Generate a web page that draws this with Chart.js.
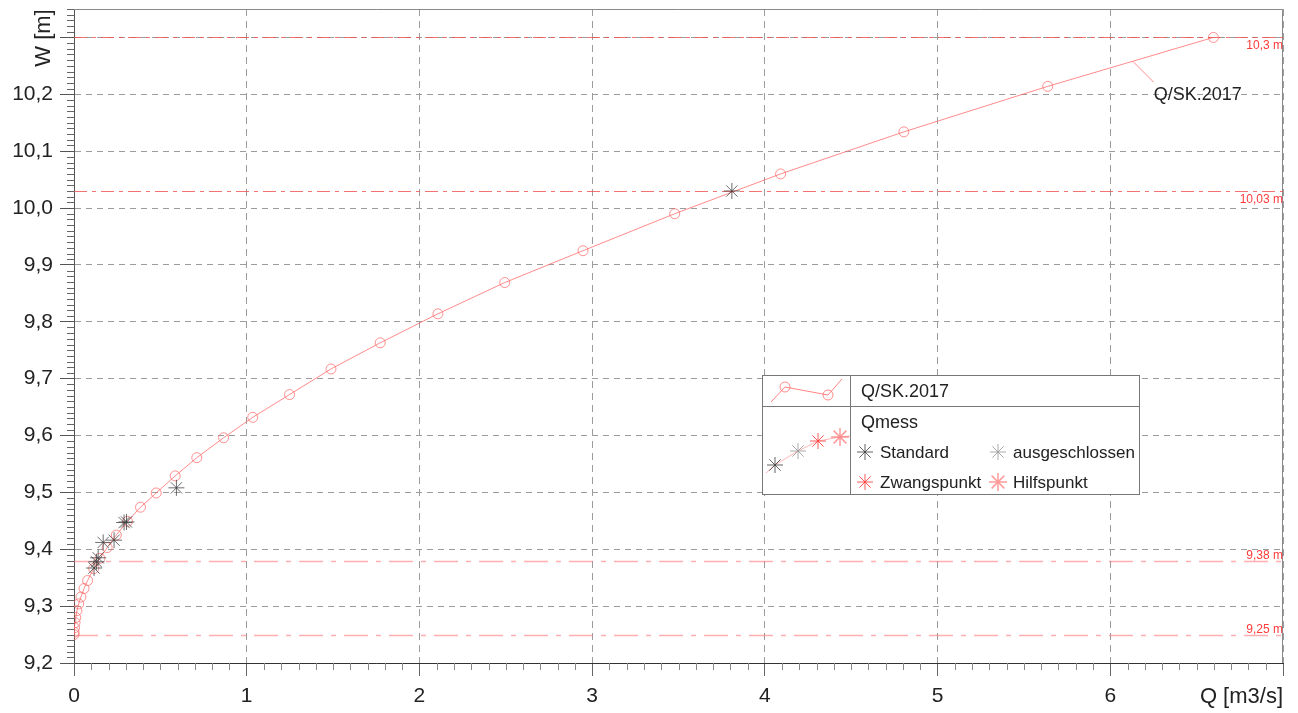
<html>

<head>
    <title>Q/SK.2017</title>
    <script src="https://cdn.jsdelivr.net/npm/chart.js"></script>
    <style>
        body { margin: 0; background: #fff; }
        #box { width: 1298px; height: 713px; position: relative; }
    </style>
</head>

<body>
    <div id="box">
        <canvas id="myChart"></canvas>
    </div>

    <script>
        // Abflusskurve Q/SK.2017 (Q in m3/s, W in m)
        const curveQ = [0.000, 0.001, 0.003, 0.006, 0.010, 0.017, 0.027, 0.040, 0.058, 0.079, 0.114,
            0.150, 0.192, 0.245, 0.310, 0.385, 0.476, 0.586, 0.711, 0.866, 1.035, 1.248, 1.488,
            1.773, 2.107, 2.494, 2.947, 3.478, 4.091, 4.805, 5.638, 6.597];
        const curveW = [9.250, 9.254, 9.262, 9.271, 9.280, 9.292, 9.304, 9.316, 9.331, 9.345, 9.366,
            9.384, 9.403, 9.425, 9.449, 9.474, 9.499, 9.529, 9.561, 9.596, 9.632, 9.672, 9.717,
            9.763, 9.814, 9.869, 9.925, 9.990, 10.060, 10.134, 10.214, 10.300];

        // Messungen (Standard)
        const messQ = [0.116, 0.130, 0.140, 0.169, 0.232, 0.290, 0.304, 0.593, 3.809];
        const messW = [9.367, 9.378, 9.385, 9.412, 9.416, 9.447, 9.448, 9.508, 10.030];

        // Grenzwasserstaende
        const refLevels = [10.3, 10.03, 9.38, 9.25];
        const refLabels = ['10,3 m', '10,03 m', '9,38 m', '9,25 m'];

        const xTickLabels = ['0', '1', '2', '3', '4', '5', '6'];
        const yTickLabels = ['9,2', '9,3', '9,4', '9,5', '9,6', '9,7', '9,8', '9,9', '10,0', '10,1', '10,2'];

        const curveLabelAt = 6.13; // Q where the curve name is pinned

        const FONT = "'Liberation Sans', Arial, sans-serif";
        Chart.defaults.font.family = FONT;
        Chart.defaults.font.size = 21;
        Chart.defaults.color = '#222';

        function drawStar(ctx, x, y, r, color, w) {
            ctx.save();
            ctx.strokeStyle = color;
            ctx.lineWidth = w;
            ctx.beginPath();
            for (let k = 0; k < 4; k++) {
                const a = k * Math.PI / 4;
                ctx.moveTo(x - r * Math.cos(a), y - r * Math.sin(a));
                ctx.lineTo(x + r * Math.cos(a), y + r * Math.sin(a));
            }
            ctx.stroke();
            ctx.restore();
        }

        const decor = {
            id: 'decor',
            beforeDatasetsDraw(chart) {
                const { ctx, chartArea: a, scales: { x, y } } = chart;
                ctx.save();
                // frame top / right
                ctx.strokeStyle = '#8a8a8a';
                ctx.lineWidth = 1;
                ctx.beginPath();
                ctx.moveTo(a.left, a.top + 0.5);
                ctx.lineTo(a.right - 0.5, a.top + 0.5);
                ctx.lineTo(a.right - 0.5, a.bottom);
                ctx.stroke();

                // reference levels
                refLevels.forEach((lv, i) => {
                    const py = Math.round(y.getPixelForValue(lv)) + 0.5;
                    const upper = lv > 9.8;
                    ctx.beginPath();
                    if (upper) {
                        ctx.strokeStyle = 'rgba(240,80,80,0.8)';
                        ctx.lineWidth = 1;
                        ctx.setLineDash([13, 5, 4, 5]);
                    } else {
                        ctx.strokeStyle = 'rgba(255,110,110,0.55)';
                        ctx.lineWidth = 1.5;
                        ctx.setLineDash([24, 8, 5, 8]);
                    }
                    ctx.moveTo(a.left, py);
                    ctx.lineTo(a.right, py);
                    ctx.stroke();
                    ctx.setLineDash([]);
                    ctx.fillStyle = '#ff3a3a';
                    ctx.font = '12px ' + FONT;
                    ctx.textAlign = 'right';
                    if (upper) {
                        ctx.textBaseline = 'top';
                        ctx.fillText(refLabels[i], a.right, py + 2);
                    } else {
                        ctx.textBaseline = 'alphabetic';
                        ctx.fillText(refLabels[i], a.right, py - 3);
                    }
                });
                ctx.restore();
            },
            afterDraw(chart) {
                const { ctx, chartArea: a, scales: { x, y } } = chart;
                ctx.save();

                // minor ticks
                ctx.strokeStyle = '#666';
                ctx.lineWidth = 1;
                ctx.beginPath();
                for (let k = 0; k <= 115; k++) {
                    if (k % 10 === 0) continue;
                    const py = Math.round(y.getPixelForValue(9.2 + k * 0.01)) + 0.5;
                    ctx.moveTo(a.left - 7, py);
                    ctx.lineTo(a.left, py);
                }
                ctx.stroke();
                ctx.strokeStyle = '#888';
                ctx.beginPath();
                for (let k = 0; k <= 70; k++) {
                    if (k % 10 === 0) continue;
                    const px = Math.round(x.getPixelForValue(k * 0.1)) + 0.5;
                    ctx.moveTo(px, a.bottom);
                    ctx.lineTo(px, a.bottom + 7);
                }
                ctx.stroke();

                // axis titles
                ctx.fillStyle = '#222';
                ctx.font = '22px ' + FONT;
                ctx.textAlign = 'right';
                ctx.textBaseline = 'alphabetic';
                ctx.fillText('Q [m3/s]', a.right, 703);
                ctx.save();
                ctx.translate(50, 38);
                ctx.rotate(-Math.PI / 2);
                ctx.textAlign = 'center';
                ctx.fillText('W [m]', 0, 0);
                ctx.restore();

                // curve name with leader
                let i = curveQ.findIndex(q => q > curveLabelAt);
                const t = (curveLabelAt - curveQ[i - 1]) / (curveQ[i] - curveQ[i - 1]);
                const wAt = curveW[i - 1] + t * (curveW[i] - curveW[i - 1]);
                const lx = x.getPixelForValue(curveLabelAt), ly = y.getPixelForValue(wAt);
                ctx.strokeStyle = 'rgba(255,110,110,0.8)';
                ctx.beginPath();
                ctx.moveTo(lx, ly);
                ctx.lineTo(lx + 21, ly + 21);
                ctx.stroke();
                ctx.font = '18px ' + FONT;
                ctx.textAlign = 'left';
                ctx.fillText('Q/SK.2017', lx + 21, ly + 39);

                // legend table
                const L = 762.5, R = 1139.5, T = 375.5, B = 494.5, M = 406.5, V = 850.5;
                ctx.fillStyle = '#fff';
                ctx.fillRect(L, T, R - L, B - T);
                ctx.strokeStyle = '#777';
                ctx.lineWidth = 1;
                ctx.strokeRect(L, T, R - L, B - T);
                ctx.beginPath();
                ctx.moveTo(L, M); ctx.lineTo(R, M);
                ctx.moveTo(V, T); ctx.lineTo(V, B);
                ctx.stroke();

                ctx.strokeStyle = 'rgba(255,100,100,0.8)';
                ctx.beginPath();
                ctx.moveTo(771, 402); ctx.lineTo(785, 387); ctx.lineTo(828, 395); ctx.lineTo(842, 379);
                ctx.stroke();
                ctx.strokeStyle = 'rgba(255,100,100,0.75)';
                [[785, 387], [828, 395]].forEach(p => {
                    ctx.beginPath();
                    ctx.arc(p[0], p[1], 5, 0, Math.PI * 2);
                    ctx.stroke();
                });

                ctx.strokeStyle = 'rgba(255,120,120,0.55)';
                ctx.beginPath();
                ctx.moveTo(766, 473); ctx.lineTo(775, 465); ctx.lineTo(798, 451); ctx.lineTo(818, 441); ctx.lineTo(840, 437); ctx.lineTo(850, 436);
                ctx.stroke();
                drawStar(ctx, 775, 465, 8, 'rgba(60,60,60,0.8)', 1);
                drawStar(ctx, 798, 451, 8, 'rgba(150,150,150,0.8)', 1);
                drawStar(ctx, 818, 441, 8, 'rgba(255,50,50,0.8)', 1);
                drawStar(ctx, 840, 437, 9, 'rgba(255,90,90,0.6)', 1.5);

                drawStar(ctx, 865, 452, 8, 'rgba(60,60,60,0.8)', 1);
                drawStar(ctx, 998, 452, 8, 'rgba(150,150,150,0.8)', 1);
                drawStar(ctx, 865, 482, 8, 'rgba(255,50,50,0.8)', 1);
                drawStar(ctx, 998, 482, 9, 'rgba(255,90,90,0.6)', 1.5);

                ctx.fillStyle = '#222';
                ctx.font = '18px ' + FONT;
                ctx.textAlign = 'left';
                ctx.textBaseline = 'alphabetic';
                ctx.fillText('Q/SK.2017', 861, 397);
                ctx.fillText('Qmess', 861, 428);
                ctx.font = '17px ' + FONT;
                ctx.fillText('Standard', 880, 458);
                ctx.fillText('ausgeschlossen', 1013, 458);
                ctx.fillText('Zwangspunkt', 880, 488);
                ctx.fillText('Hilfspunkt', 1013, 488);

                ctx.restore();
            }
        };

        const data = {
            datasets: [
                {
                    label: 'Qmess',
                    data: messQ.map((q, i) => ({ x: q, y: messW[i] })),
                    showLine: false,
                    pointStyle: 'star',
                    pointRadius: 8,
                    pointBorderColor: 'rgba(60,60,60,0.75)',
                    pointBorderWidth: 1,
                    pointBackgroundColor: 'rgba(60,60,60,0.75)',
                    order: 1
                },
                {
                    label: 'Q/SK.2017',
                    data: curveQ.map((q, i) => ({ x: q, y: curveW[i] })),
                    showLine: true,
                    borderColor: 'rgba(255,110,110,0.8)',
                    borderWidth: 1,
                    tension: 0,
                    pointStyle: 'circle',
                    pointRadius: 5,
                    pointBackgroundColor: 'rgba(255,255,255,0)',
                    pointBorderColor: 'rgba(255,100,100,0.7)',
                    pointBorderWidth: 1,
                    order: 2
                }
            ]
        };

        const config = {
            type: 'scatter',
            data: data,
            options: {
                responsive: true,
                maintainAspectRatio: false,
                animation: false,
                layout: { padding: { top: 8, right: 15, left: 0, bottom: 0 } },
                scales: {
                    x: {
                        min: 0,
                        max: 7,
                        afterFit: (s) => { s.height = 50; s.paddingLeft = 0; s.paddingRight = 0; },
                        ticks: {
                            stepSize: 1,
                            includeBounds: false,
                            padding: 8,
                            maxRotation: 0,
                            autoSkip: false,
                            callback: (v, i) => xTickLabels[i] ?? ''
                        },
                        grid: { color: '#9c9c9c', tickColor: '#666', tickLength: 13 },
                        border: { color: '#333', width: 1, dash: [7, 5] }
                    },
                    y: {
                        min: 9.2,
                        max: 10.35,
                        afterFit: (s) => { s.width = 74; s.paddingTop = 0; s.paddingBottom = 0; },
                        ticks: {
                            stepSize: 0.1,
                            includeBounds: false,
                            padding: 7,
                            autoSkip: false,
                            callback: (v, i) => yTickLabels[i] ?? ''
                        },
                        grid: { color: '#9c9c9c', tickColor: '#555', tickLength: 14 },
                        border: { color: '#555', width: 1, dash: [6, 5] }
                    }
                },
                plugins: {
                    legend: { display: false },
                    tooltip: { enabled: false }
                }
            },
            plugins: [decor]
        };
    </script>

    <script>
        const myChart = new Chart(
            document.getElementById('myChart'),
            config
        );
    </script>

</body>

</html>
